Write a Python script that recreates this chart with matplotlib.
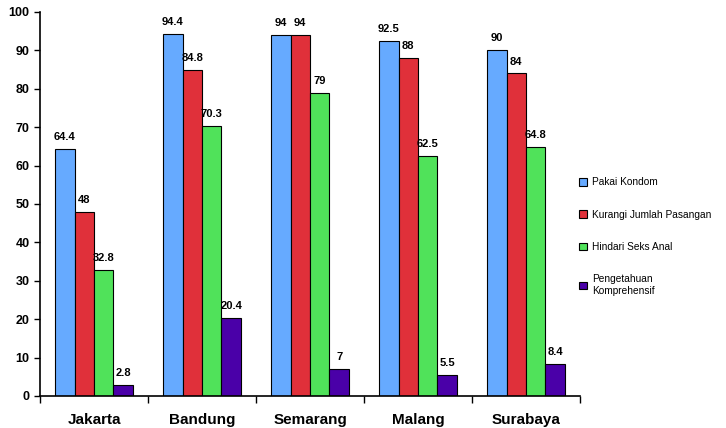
import numpy as np
import matplotlib
matplotlib.use("Agg")
import matplotlib.pyplot as plt

plt.rcParams['font.family'] = ['Liberation Sans', 'DejaVu Sans']

cities = ["Jakarta", "Bandung", "Semarang", "Malang", "Surabaya"]
series = ["Pakai Kondom", "Kurangi Jumlah Pasangan", "Hindari Seks Anal",
          "Pengetahuan\nKomprehensif"]
pakai = [64.4, 94.4, 94, 92.5, 90]
kurangi = [48, 84.8, 94, 88, 84]
hindari = [32.8, 70.3, 79, 62.5, 64.8]
pengetahuan = [2.8, 20.4, 7, 5.5, 8.4]
colors = ["#66aaff", "#e0303a", "#50e25a", "#4a00a8"]

fig = plt.figure(figsize=(7.26, 4.28), dpi=100)
ax = fig.add_axes([40/726, 32/428, 540/726, 384/428])

x = np.arange(len(cities))
w = 0.18
for i, (vals, lab, col) in enumerate(zip([pakai, kurangi, hindari, pengetahuan], series, colors)):
    pos = x - 1.5*w + i*w
    ax.bar(pos, vals, w, color=col, edgecolor="black", linewidth=0.8, label=lab)
    for p, v in zip(pos, vals):
        ax.text(p, v + 1.8, f"{v:g}", ha="center", va="bottom", fontsize=8, fontweight="bold")

ax.set_xlim(-0.5, len(cities) - 0.5)
ax.set_ylim(0, 100)
ax.set_yticks(range(0, 101, 10))
ax.set_xticks(np.arange(-0.5, len(cities), 1))
ax.set_xticklabels([])
ax.set_xticks(x, minor=True)
ax.set_xticklabels(cities, minor=True, fontsize=11, fontweight="bold")
ax.tick_params(axis="x", which="minor", length=0, pad=12)
ax.tick_params(axis="x", which="major", length=5, width=1)
ax.tick_params(axis="y", length=4, width=1, labelsize=9)
for t in ax.get_yticklabels():
    t.set_fontweight("bold")
ax.spines["top"].set_visible(False)
ax.spines["right"].set_visible(False)
ax.spines["left"].set_linewidth(1.2)
ax.spines["bottom"].set_linewidth(1.2)

ax.legend(loc="center left", bbox_to_anchor=(0.99, 0.415), frameon=False,
          fontsize=7.3, labelspacing=2.2, handlelength=0.8, handleheight=0.8,
          handletextpad=0.5, borderaxespad=0.0)

fig.savefig("out.png", dpi=100)
